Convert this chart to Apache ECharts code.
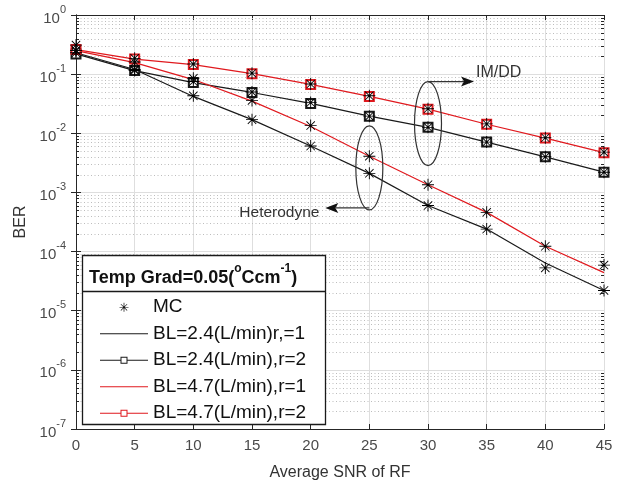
<!DOCTYPE html>
<html><head><meta charset="utf-8">
<script src="https://cdn.jsdelivr.net/npm/echarts@6/dist/echarts.min.js"></script>
<style>html,body{margin:0;padding:0;background:#fff}#c{width:625px;height:486px}</style>
</head><body><div id="c"></div>
<script>
// ---- data ----
const snr = [0, 5, 10, 15, 20, 25, 30, 35, 40, 45];
const ber24r1 = [0.23, 0.12, 0.042, 0.017, 0.0061, 0.0021, 6.0e-4, 2.4e-4, 6.4e-5, 2.2e-5];
const ber24r2 = [0.22, 0.115, 0.072, 0.049, 0.032, 0.0195, 0.0126, 0.0071, 0.0040, 0.0022];
const ber47r1 = [0.25, 0.157, 0.081, 0.035, 0.013, 0.0041, 0.00135, 4.6e-4, 1.23e-4, 4.4e-5];
const ber47r2 = [0.26, 0.18, 0.145, 0.102, 0.067, 0.042, 0.0256, 0.0142, 0.0083, 0.0047];
const mc24r1 = [0.31, 0.12, 0.043, 0.017, 0.0061, 0.0021, 6.0e-4, 2.4e-4, 5.3e-5, 2.2e-5];
const mc24r2 = [0.23, 0.115, 0.075, 0.050, 0.033, 0.0195, 0.0126, 0.0071, 0.0040, 0.0022];
const mc47r1 = [0.25, 0.16, 0.085, 0.036, 0.0135, 0.0041, 0.00135, 4.6e-4, 1.23e-4, 5.9e-5];
const mc47r2 = [0.25, 0.185, 0.148, 0.104, 0.068, 0.043, 0.026, 0.0144, 0.0084, 0.0048];
const xTicks = { min: 0, max: 45, interval: 5 };
const yRange = { min: 1e-7, max: 1 };
const minorMantissas = [2, 3, 4, 5, 6, 7, 8, 9];
const decades = [-7, -6, -5, -4, -3, -2, -1];
const names = ['MC', 'BL=2.4(L/min)r,=1', 'BL=2.4(L/min),r=2', 'BL=4.7(L/min),r=1', 'BL=4.7(L/min),r=2'];

const RED = '#e0191e', BLK = '#1a1a1a';
const FONT = '"Liberation Sans", Arial, sans-serif';
const STAR = 'path://M-0.75,-10 L0.75,-10 L0.75,10 L-0.75,10 Z M-10,-0.75 L10,-0.75 L10,0.75 L-10,0.75 Z M-6.5,-7.5 L7.5,6.5 L6.5,7.5 L-7.5,-6.5 Z M-7.5,6.5 L6.5,-7.5 L7.5,-6.5 L-6.5,7.5 Z';
const ICON_LINE = 'path://M0,0 H48 V1.2 H0 Z';
const ICON_LINE_SQ = 'path://M0,3.9 H20.5 V5.1 H0 Z M27.5,3.9 H48 V5.1 H27.5 Z M20.5,1 H27.5 V8 H20.5 Z M21.5,2 V7 H26.5 V2 Z';

const zip = (xs, ys) => xs.map((x, i) => [x, ys[i]]);
const mcData = [].concat(zip(snr, mc24r1), zip(snr, mc24r2), zip(snr, mc47r1), zip(snr, mc47r2));
const minorVals = [];
decades.forEach(e => minorMantissas.forEach(m => minorVals.push(m * Math.pow(10, e))));

const chart = echarts.init(document.getElementById('c'), null, { renderer: 'canvas' });
const axisLineStyle = { color: '#262626', width: 1 };
const option = {
  backgroundColor: '#fff',
  animation: false,
  textStyle: { fontFamily: FONT },
  grid: { left: 76, right: 21, top: 15, bottom: 54, containLabel: false },
  xAxis: [{
    type: 'value', min: xTicks.min, max: xTicks.max, interval: xTicks.interval,
    name: 'Average SNR of RF', nameLocation: 'middle', nameGap: 36,
    nameTextStyle: { fontSize: 16, color: '#333', fontFamily: FONT },
    axisLine: { show: true, lineStyle: axisLineStyle },
    axisTick: { inside: true, length: 5, lineStyle: axisLineStyle },
    axisLabel: { fontSize: 15, color: '#4a4a4a', margin: 9, fontFamily: FONT },
    splitLine: { show: true, lineStyle: { color: '#dedede', width: 1 } }
  }, {
    type: 'value', position: 'top', min: xTicks.min, max: xTicks.max, interval: xTicks.interval,
    axisLine: { show: true, lineStyle: axisLineStyle },
    axisTick: { inside: true, length: 5, lineStyle: axisLineStyle },
    axisLabel: { show: false }, splitLine: { show: false }
  }],
  yAxis: [{
    type: 'log', logBase: 10, min: yRange.min, max: yRange.max, splitNumber: 7,
    name: 'BER', nameLocation: 'middle', nameGap: 47, nameRotate: 90,
    nameTextStyle: { fontSize: 16, color: '#333', fontFamily: FONT },
    axisLine: { show: true, lineStyle: axisLineStyle },
    axisTick: { inside: true, length: 5, lineStyle: axisLineStyle },
    axisLabel: {
      margin: 10, color: '#4a4a4a',
      formatter: v => '{b|10}{s|' + Math.round(Math.log10(v)) + '}',
      rich: {
        b: { fontSize: 15, color: '#4a4a4a', fontFamily: FONT, lineHeight: 22, verticalAlign: 'bottom' },
        s: { fontSize: 11, color: '#4a4a4a', fontFamily: FONT, lineHeight: 22, verticalAlign: 'top' }
      }
    },
    splitLine: { show: true, lineStyle: { color: '#dedede', width: 1 } }
  }, {
    type: 'log', logBase: 10, min: yRange.min, max: yRange.max, splitNumber: 7, position: 'right',
    axisLine: { show: true, lineStyle: axisLineStyle },
    axisTick: { inside: true, length: 5, lineStyle: axisLineStyle },
    axisLabel: { show: false }, splitLine: { show: false }
  }],
  legend: {
    orient: 'vertical', left: 100, top: 297, padding: 0,
    itemWidth: 48, itemHeight: 9, itemGap: 6, itemSymbolKeepAspect: true,
    selectedMode: false, z: 20,
    textStyle: { fontSize: 19, color: '#111', fontFamily: FONT, lineHeight: 20.5 },
    data: [
      { name: names[0] },
      { name: names[1], icon: ICON_LINE },
      { name: names[2], icon: ICON_LINE_SQ },
      { name: names[3], icon: ICON_LINE },
      { name: names[4], icon: ICON_LINE_SQ }
    ]
  },
  series: [
    {
      type: 'custom', name: 'minorGrid', silent: true, z: 1,
      data: minorVals.map(v => [0, v]),
      renderItem: (params, api) => {
        const v = api.value(1);
        const a = api.coord([xTicks.min, v]);
        const b = api.coord([xTicks.max, v]);
        const y = Math.round(a[1]) + 0.5;
        return {
          type: 'group', children: [
            { type: 'line', shape: { x1: a[0] + 1, y1: y, x2: b[0] - 1, y2: y }, style: { stroke: '#bdbdbd', lineWidth: 1, lineDash: [1, 2.5] } },
            { type: 'line', shape: { x1: a[0], y1: y, x2: a[0] + 3, y2: y }, style: { stroke: '#262626', lineWidth: 1 } },
            { type: 'line', shape: { x1: b[0] - 3, y1: y, x2: b[0], y2: y }, style: { stroke: '#262626', lineWidth: 1 } }
          ]
        };
      }
    },
    {
      type: 'line', name: names[1], data: zip(snr, ber24r1), symbol: 'none', z: 3,
      lineStyle: { color: BLK, width: 1.2 }, itemStyle: { color: BLK }
    },
    {
      type: 'line', name: names[2], data: zip(snr, ber24r2), symbol: 'emptyRect', symbolSize: 9, z: 3,
      lineStyle: { color: BLK, width: 1.2 }, itemStyle: { color: BLK, borderWidth: 1.2 }
    },
    {
      type: 'line', name: names[3], data: zip(snr, ber47r1), symbol: 'none', z: 3,
      lineStyle: { color: RED, width: 1.2 }, itemStyle: { color: RED }
    },
    {
      type: 'line', name: names[4], data: zip(snr, ber47r2), symbol: 'emptyRect', symbolSize: 9, z: 3,
      lineStyle: { color: RED, width: 1.2 }, itemStyle: { color: RED, borderWidth: 1.2 }
    },
    {
      type: 'scatter', name: names[0], data: mcData, symbol: STAR, symbolSize: 12, z: 5,
      itemStyle: { color: '#000', opacity: 1 }
    }
  ]
};
chart.setOption(option);

// annotations placed via the axes' own coordinate conversion
const toPx = p => chart.convertToPixel({ xAxisIndex: 0, yAxisIndex: 0 }, p);
const imdd = toPx([30, 0.0146]);
const het = toPx([25, 0.0026]);
const ry = 42, rx = 13.5;
const imTop = imdd[1] - ry, hetBot = het[1] + ry - 2;
chart.setOption({
  graphic: [
    { type: 'rect', z: 10, shape: { x: 82.5, y: 255.5, width: 243, height: 169 }, style: { fill: '#fff', stroke: '#1a1a1a', lineWidth: 1.3 } },
    { type: 'line', z: 11, shape: { x1: 82.5, y1: 291.5, x2: 325.5, y2: 291.5 }, style: { stroke: '#1a1a1a', lineWidth: 1.3 } },
    { type: 'text', z: 11, x: 89, y: 263, style: {
        text: '{b|Temp Grad=0.05(}{s|o}{b|Ccm}{s|-1}{b|)}',
        rich: {
          b: { fontSize: 18, fontWeight: 'bold', fill: '#111', fontFamily: FONT, lineHeight: 24, verticalAlign: 'bottom' },
          s: { fontSize: 12, fontWeight: 'bold', fill: '#111', fontFamily: FONT, lineHeight: 24, verticalAlign: 'top' }
        }
    } },
    { type: 'ellipse', z: 12, shape: { cx: imdd[0], cy: imdd[1], rx: rx, ry: ry }, style: { fill: 'none', stroke: '#333', lineWidth: 1.2 } },
    { type: 'line', z: 12, shape: { x1: imdd[0], y1: imTop, x2: imdd[0] + 36, y2: imTop }, style: { stroke: '#333', lineWidth: 1.2 } },
    { type: 'polygon', z: 12, shape: { points: [[imdd[0] + 46, imTop], [imdd[0] + 33, imTop - 5], [imdd[0] + 36, imTop], [imdd[0] + 33, imTop + 5]] }, style: { fill: '#111' } },
    { type: 'text', z: 12, x: imdd[0] + 48, y: imTop - 17, style: { text: 'IM/DD', fontSize: 16, fill: '#333', fontFamily: FONT } },
    { type: 'ellipse', z: 12, shape: { cx: het[0], cy: het[1], rx: rx, ry: ry }, style: { fill: 'none', stroke: '#333', lineWidth: 1.2 } },
    { type: 'line', z: 12, shape: { x1: het[0], y1: hetBot, x2: het[0] - 34, y2: hetBot }, style: { stroke: '#333', lineWidth: 1.2 } },
    { type: 'polygon', z: 12, shape: { points: [[het[0] - 44, hetBot], [het[0] - 31, hetBot - 5], [het[0] - 34, hetBot], [het[0] - 31, hetBot + 5]] }, style: { fill: '#111' } },
    { type: 'text', z: 12, x: het[0] - 130, y: hetBot - 3, style: { text: 'Heterodyne', fontSize: 15.5, fill: '#333', fontFamily: FONT } }
  ]
});
</script>
</body></html>
